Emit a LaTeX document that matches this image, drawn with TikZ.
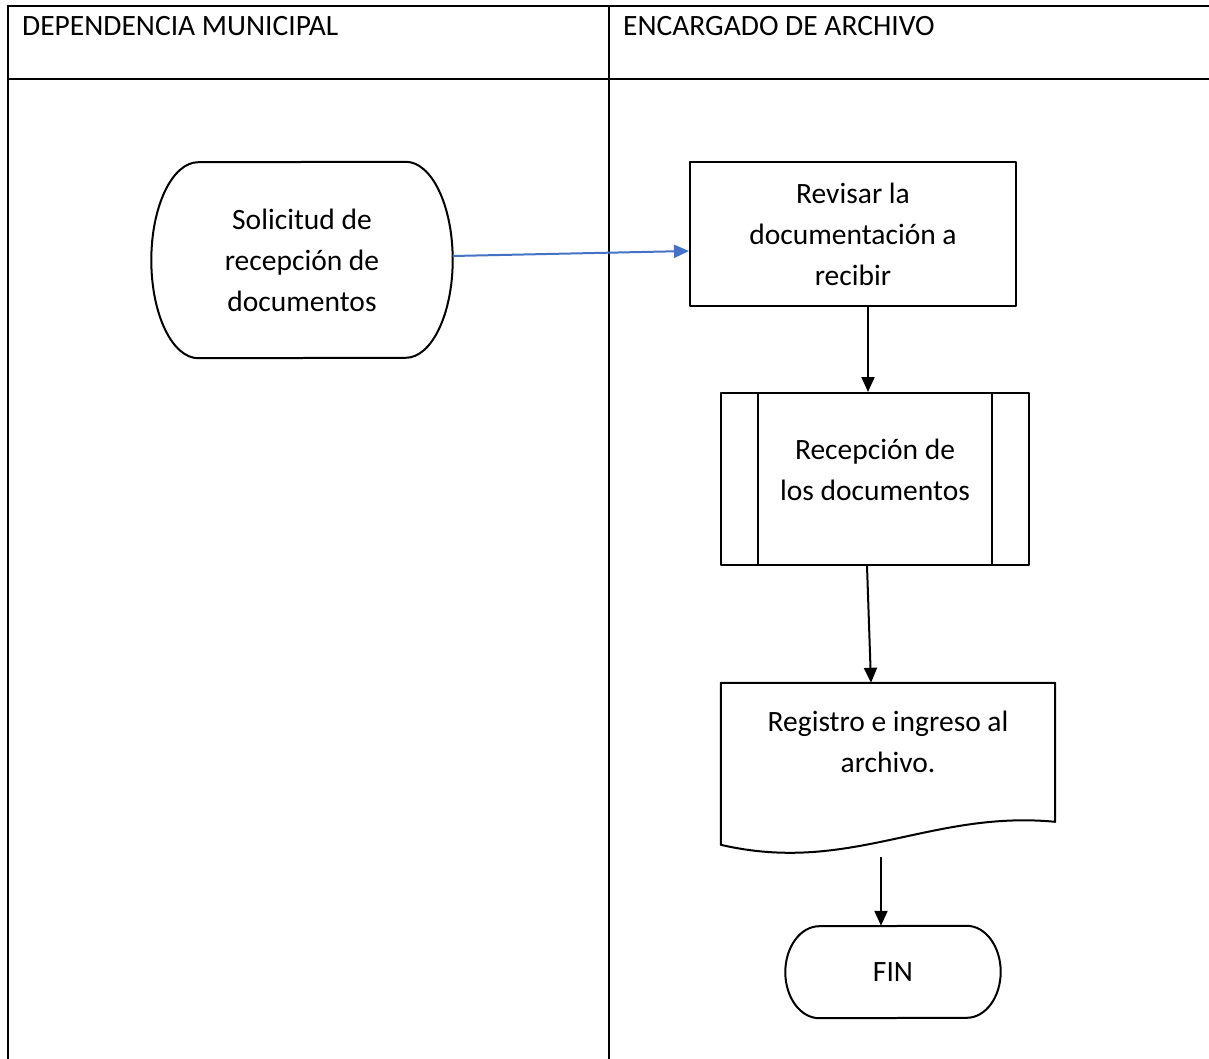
\documentclass[tikz,border=0pt]{standalone}
\usepackage{fontspec}
\setmainfont{Carlito}
\usepackage{tikz}
\usetikzlibrary{arrows.meta, positioning, calc}
\definecolor{flowblue}{RGB}{68,114,196}
\tikzstyle{box} = [rectangle, align=center, inner sep=0pt]
\tikzstyle{outline} = [line width=2pt, line join=round]
\tikzstyle{arrow} = [line width=2pt, -{Triangle[length=15pt,width=13pt]}]
\tikzstyle{grid} = [line width=2.5pt]

\begin{document}
\begin{tikzpicture}[x=1pt, y=1pt, font=\fontsize{29.5}{41}\selectfont]
    \useasboundingbox (0,0) rectangle (1209,-1059);

    % table with the two lanes
    \draw [grid] (8,-1059) -- (8,-6) -- (1209,-6);
    \draw [grid] (8,-79) -- (1209,-79);
    \draw [grid] (609,-6) -- (609,-1059);
    \node (dependencia) [anchor=base west, inner sep=0pt] at (22,-36) {DEPENDENCIA MUNICIPAL};
    \node (encargado) [anchor=base west, inner sep=0pt] at (623,-36) {ENCARGADO DE ARCHIVO};

    % nodes
    \node (solicitud) [box, minimum width=301pt, minimum height=196pt] at (302,-260) {Solicitud de\\recepción de\\documentos};
    \node (revisar) [box, draw, outline, minimum width=326pt, minimum height=144pt] at (853,-234) {Revisar la\\documentación a\\recibir};
    \node (recepcion) [box, draw, outline, minimum width=308pt, minimum height=172pt] at (875,-479) {};
    \node (recepcion-txt) [box] at ([yshift=9pt]recepcion.center) {Recepción de\\los documentos};
    \node (registro) [box, minimum width=334pt, minimum height=118pt] at (888,-742) {Registro e ingreso al\\archivo.};
    \node (fin) [box, minimum width=215pt, minimum height=92pt] at (893,-972) {FIN};

    % terminal outlines
    \draw [outline] ([xshift=-47pt]solicitud.north east) arc[start angle=90, end angle=-90, x radius=47pt, y radius=98pt]
        -- ([xshift=47pt]solicitud.south west) arc[start angle=-90, end angle=-270, x radius=47pt, y radius=98pt] -- cycle;
    \draw [outline] ([xshift=-34pt]fin.north east) arc[start angle=90, end angle=-90, x radius=34pt, y radius=46pt]
        -- ([xshift=34pt]fin.south west) arc[start angle=-90, end angle=-270, x radius=34pt, y radius=46pt] -- cycle;

    % predefined process bars
    \draw [outline] ([xshift=38pt]recepcion.north west) -- ([xshift=38pt]recepcion.south west);
    \draw [outline] ([xshift=-38pt]recepcion.north east) -- ([xshift=-38pt]recepcion.south east);

    % document with wavy bottom
    \coordinate (wave-l) at ([yshift=-162pt]registro.north west);
    \coordinate (wave-r) at ([yshift=-139pt]registro.north east);
    \draw [outline] (registro.north west) -- (registro.north east) -- (wave-r)
        .. controls ($(registro.north west)+(209,-127)$) and ($(registro.north west)+(129,-192)$) .. (wave-l) -- cycle;

    % connectors
    \draw [arrow, flowblue] ([yshift=4pt]solicitud.east) -- ([yshift=-17pt]revisar.west);
    \draw [arrow] ([xshift=15pt]revisar.south) -- ([xshift=-7pt]recepcion.north);
    \draw [arrow] ([xshift=-8pt]recepcion.south) -- ([xshift=-17pt]registro.north);
    \draw [arrow] ($(fin.north)+(-12,69)$) -- ([xshift=-12pt]fin.north);
\end{tikzpicture}
\end{document}
